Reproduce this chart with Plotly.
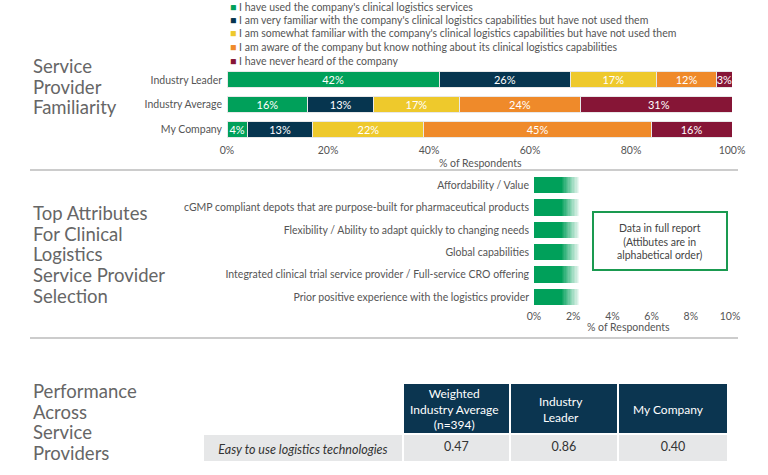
import plotly.graph_objects as go

W, H = 768, 475
FONT = "Lato"
GRAY_TXT = "#555555"
TITLE_GRAY = "#666666"

# ============================================================
# DATA
# ============================================================
companies = ["Industry Leader", "Industry Average", "My Company"]
familiarity_labels = [
    "I have used the company's clinical logistics services",
    "I am very familiar with the company's clinical logistics capabilities but have not used them",
    "I am somewhat familiar with the company's clinical logistics capabilities but have not used them",
    "I am aware of the company but know nothing about its clinical logistics capabilities",
    "I have never heard of the company",
]
familiarity_colors = ["#00a05a", "#06354f", "#eec92c", "#ef8a2a", "#861536"]
used = [42, 16, 4]
very_familiar = [26, 13, 13]
somewhat_familiar = [17, 17, 22]
aware = [12, 24, 45]
never_heard = [3, 31, 16]
familiarity_values = [used, very_familiar, somewhat_familiar, aware, never_heard]

attributes = [
    "Affordability / Value",
    "cGMP compliant depots that are purpose-built for pharmaceutical products",
    "Flexibility / Ability to adapt quickly to changing needs",
    "Global capabilities",
    "Integrated clinical trial service provider / Full-service CRO offering",
    "Prior positive experience with the logistics provider",
]
teaser_len = [2.4, 2.4, 2.4, 2.4, 2.4, 2.4]  # placeholder bars, real data in full report

table_header = ["Weighted<br>Industry Average<br>(n=394)", "Industry<br>Leader", "My Company"]
table_row = ["<i>Easy to use logistics technologies</i>", "0.47", "0.86", "0.40"]


def px(x):
    return x / W


def py(y):
    return 1 - y / H


fig = go.Figure()

# ============================================================
# 1. Service Provider Familiarity (stacked bars)
# ============================================================
for name, vals, col in zip(familiarity_labels, familiarity_values, familiarity_colors):
    fig.add_trace(go.Bar(
        x=vals, y=companies, orientation="h", name=name,
        marker=dict(color=col, line=dict(color="#e8e8e8", width=1)),
        width=0.64,
        text=[f"{v}%" for v in vals], textposition="inside",
        insidetextanchor="middle", textangle=0, constraintext="none",
        textfont=dict(color="white", size=11, family=FONT),
        xaxis="x", yaxis="y", showlegend=False, hoverinfo="x+y",
    ))

# ============================================================
# 2. Top attributes (teaser bars fading out)
# ============================================================
solid = [v * 0.6 for v in teaser_len]
fig.add_trace(go.Bar(
    x=solid, y=attributes, orientation="h", width=0.72,
    marker=dict(color="#00a05a", line=dict(width=0)),
    xaxis="x2", yaxis="y2", showlegend=False, hoverinfo="skip",
))
N_FADE = 14
for i in range(N_FADE):
    t = (i + 1) / N_FADE
    r = int(0 + 255 * t)
    g = int(160 + 95 * t)
    b = int(90 + 165 * t)
    fig.add_trace(go.Bar(
        x=[v * 0.4 / N_FADE for v in teaser_len], y=attributes, orientation="h", width=0.72,
        marker=dict(color=f"rgb({r},{g},{b})", line=dict(width=0)),
        xaxis="x2", yaxis="y2", showlegend=False, hoverinfo="skip",
    ))

# ============================================================
# 3. Performance table
# ============================================================
navy = "#0b3550"
col_widths = [198, 106, 107, 109]
fig.add_trace(go.Table(
    domain=dict(x=[px(203), px(728)], y=[py(461), py(383)]),
    columnwidth=col_widths,
    header=dict(
        values=["", "", "", ""],
        fill_color=["white", navy, navy, navy],
        line=dict(color="white", width=2),
        height=51,
    ),
    cells=dict(
        values=[[v] for v in table_row],
        fill_color="#e6e7e8",
        line=dict(color="white", width=2),
        font=dict(color="#333333", size=12.5, family=FONT),
        align="center", height=26,
    ),
))

# ============================================================
# LAYOUT
# ============================================================
annotations = []

# legend built from colored squares
leg_y = [7, 20.5, 33.5, 47, 60.5]
for lab, col, yy in zip(familiarity_labels, familiarity_colors, leg_y):
    annotations.append(dict(
        x=px(228), y=py(yy), xref="paper", yref="paper", xanchor="left", yanchor="middle",
        text=f"<span style='color:{col}'>■</span> {lab}", showarrow=False,
        font=dict(size=10.5, color=GRAY_TXT, family=FONT),
    ))

titles = [
    (["Service", "Provider", "Familiarity"], 66),
    (["Top Attributes", "For Clinical", "Logistics", "Service Provider", "Selection"], 213),
    (["Performance", "Across", "Service", "Providers"], 391),
]
for lines, y0 in titles:
    for k, txt in enumerate(lines):
        annotations.append(dict(
            x=px(31), y=py(y0 + k * 20.7), xref="paper", yref="paper",
            xanchor="left", yanchor="middle",
            text=txt, showarrow=False,
            font=dict(size=18.5, color=TITLE_GRAY, family=FONT),
        ))

# table header labels, centred in the navy cells
x_left = 203 + col_widths[0]
for w, lab in zip(col_widths[1:], table_header):
    annotations.append(dict(
        x=px(x_left + w / 2), y=py(409), xref="paper", yref="paper",
        xanchor="center", yanchor="middle", text=lab, showarrow=False,
        font=dict(size=12, color="white", family=FONT),
    ))
    x_left += w

annotations += [
    dict(x=px(480), y=py(163), xref="paper", yref="paper", xanchor="center", yanchor="middle",
         text="% of Respondents",
         showarrow=False, font=dict(size=10.5, color=GRAY_TXT, family=FONT)),
    dict(x=px(628), y=py(327), xref="paper", yref="paper", xanchor="center", yanchor="middle",
         text="% of Respondents",
         showarrow=False, font=dict(size=10.5, color=GRAY_TXT, family=FONT)),
    dict(x=px(660), y=py(241), xref="paper", yref="paper", xanchor="center", yanchor="middle",
         text="Data in full report<br>(Attibutes are in<br>alphabetical order)",
         showarrow=False, font=dict(size=10.5, color="#444444", family=FONT)),
]

shapes = [
    dict(type="line", xref="paper", yref="paper", x0=px(30), x1=px(738), y0=py(170), y1=py(170),
         line=dict(color="#cccccc", width=2)),
    dict(type="line", xref="paper", yref="paper", x0=px(30), x1=px(738), y0=py(338), y1=py(338),
         line=dict(color="#cccccc", width=2)),
    dict(type="rect", xref="paper", yref="paper", x0=px(593), x1=px(727), y0=py(270), y1=py(212),
         line=dict(color="#1a9a50", width=2)),
]

tickfont = dict(size=10.5, color=GRAY_TXT, family=FONT)

fig.update_layout(
    width=W, height=H,
    margin=dict(l=0, r=0, t=0, b=0, autoexpand=False),
    paper_bgcolor="white", plot_bgcolor="white",
    barmode="stack",
    showlegend=False,
    font=dict(family=FONT, color=GRAY_TXT),
    xaxis=dict(domain=[px(227), px(732)], range=[0, 100], anchor="y",
               tickvals=[0, 20, 40, 60, 80, 100], ticktext=["0%", "20%", "40%", "60%", "80%", "100%"],
               showgrid=False, zeroline=False, showline=False, tickfont=tickfont, fixedrange=True,
               automargin=False),
    yaxis=dict(domain=[py(142), py(67.5)], anchor="x", autorange="reversed",
               showgrid=False, zeroline=False, showline=False, tickfont=tickfont, ticks="",
               ticklabelstandoff=4, fixedrange=True, automargin=False),
    xaxis2=dict(domain=[px(534), px(730)], range=[0, 10], anchor="y2",
                tickvals=[0, 2, 4, 6, 8, 10], ticktext=["0%", "2%", "4%", "6%", "8%", "10%"],
                showgrid=False, zeroline=False, showline=False, tickfont=tickfont, fixedrange=True,
                automargin=False),
    yaxis2=dict(domain=[py(308), py(174)], anchor="x2", autorange="reversed",
                showgrid=False, zeroline=False, showline=False, tickfont=tickfont, ticks="",
                ticklabelstandoff=4, fixedrange=True, automargin=False),
    annotations=annotations,
    shapes=shapes,
)

fig.write_html("out.html", config={"displayModeBar": False},
               post_script="document.body.style.margin='0';")
